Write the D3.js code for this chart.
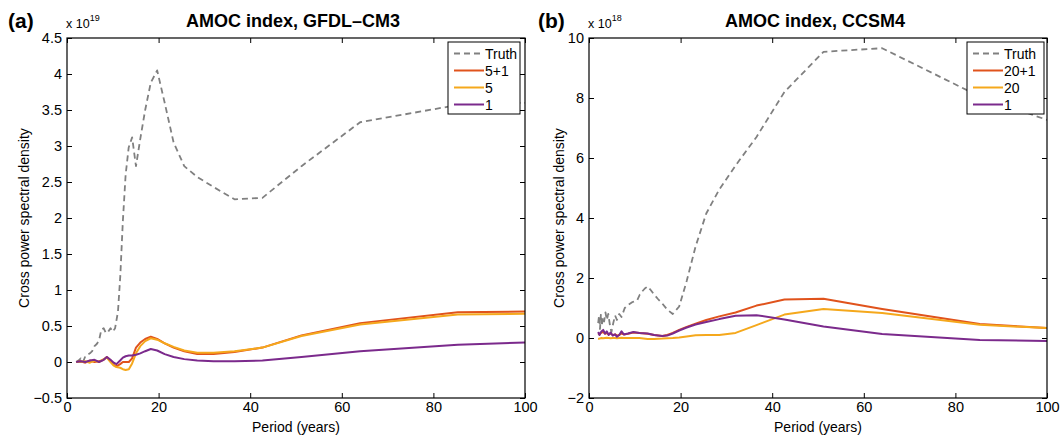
<!DOCTYPE html>
<html><head><meta charset="utf-8">
<script src="https://cdn.jsdelivr.net/npm/d3@7"></script>
<style>body{margin:0;background:#fff}svg{display:block}text{font-family:"Liberation Sans",Arial,Helvetica,sans-serif;fill:#000}</style>
</head><body><svg id="c" width="1063" height="437"></svg>
<script>
// ---------- data ----------
const xTicks = [0, 20, 40, 60, 80, 100];
const yTicksA = [-0.5, 0, 0.5, 1, 1.5, 2, 2.5, 3, 3.5, 4, 4.5];
const yTicksB = [-2, 0, 2, 4, 6, 8, 10];
const legendA = ["Truth", "5+1", "5", "1"];
const legendB = ["Truth", "20+1", "20", "1"];

// Panel (a) GFDL-CM3 (units of 1e19)
const truthA_x = [2,2.5,3,3.5,4,4.5,5,5.5,6,6.5,7,7.5,8,8.5,9,9.5,10,10.5,11.13,11.64,12.19,12.8,13.47,14.22,15.06,16,17.07,18.29,19.69,21.33,23.27,25.6,28.44,32,36.57,42.67,51.2,64,85.33,100];
const truthA_y = [0,0.02,0.05,0,0.08,0.1,0.12,0.15,0.22,0.25,0.3,0.45,0.47,0.4,0.42,0.47,0.42,0.47,0.7,1.2,1.95,2.6,2.98,3.12,2.72,3.1,3.5,3.88,4.05,3.6,3.05,2.72,2.57,2.43,2.26,2.28,2.72,3.33,3.57,3.6];
const colA_x = [2,3,4,5,6,7,8,8.7,9.5,10.2,10.8,11.6,12.2,12.8,13.5,14.22,15.06,16,17.07,18.29,19.69,21.33,23.27,25.6,28.44,32,36.57,42.67,51.2,64,85.33,100];
const orangeA = [0,0.01,-0.01,0.02,0,0.01,0.03,0.07,0.02,-0.04,-0.06,-0.03,0,0,0,0.05,0.2,0.27,0.32,0.35,0.32,0.26,0.2,0.15,0.11,0.11,0.14,0.2,0.37,0.54,0.69,0.7];
const yellowA = [0,0,0.01,-0.01,0.02,0,0.04,0.06,0,-0.05,-0.07,-0.08,-0.1,-0.11,-0.1,-0.02,0.12,0.22,0.29,0.33,0.31,0.26,0.21,0.16,0.13,0.13,0.15,0.2,0.36,0.52,0.66,0.67];
const purpleA = [0,0.01,0,0.02,0.03,0,0.03,0.07,0.03,-0.01,-0.03,0.02,0.06,0.08,0.09,0.09,0.1,0.12,0.15,0.18,0.16,0.11,0.07,0.04,0.02,0.01,0.01,0.02,0.07,0.15,0.24,0.27];

// Panel (b) CCSM4 (units of 1e18)
const truthB_x = [2,2.2,2.4,2.6,2.8,3,3.3,3.6,3.9,4.2,4.6,4.9,5.3,5.7,6.1,6.6,7.1,7.8,8.5,9.5,10.5,11.1,11.6,12.19,12.8,13.47,14.22,15.06,16,17.07,18.29,19.69,21.33,23.27,25.6,28.44,32,36.57,42.67,51.2,64,85.33,100];
const truthB_y = [0.5,0.75,0.3,0.8,0.4,0.7,0.55,0.85,0.6,0.8,0.4,0.2,0.5,0.75,0.6,0.8,0.7,1.0,1.1,1.2,1.25,1.45,1.55,1.65,1.72,1.6,1.45,1.3,1.15,0.95,0.8,1.05,1.9,3.05,4.15,4.95,5.75,6.7,8.2,9.54,9.66,8.05,7.27];
const colB_x = [2,2.3,2.7,3.1,3.5,3.9,4.3,4.7,5.2,5.7,6.1,6.6,7.1,7.6,8.5,9.7,11,12.8,14.22,16,17.07,18.29,19.69,21.33,23.27,25.6,28.44,32,36.57,42.67,51.2,64,85.33,100];
const orangeB = [0.15,0.12,0.18,0.2,0.14,0.17,0.12,0.15,0.1,0.12,0.08,0.1,0.15,0.12,0.14,0.18,0.17,0.14,0.1,0.07,0.1,0.17,0.27,0.37,0.48,0.6,0.72,0.85,1.08,1.28,1.31,0.97,0.47,0.33];
const yellowB = [-0.03,-0.02,0,-0.01,0,0.01,0,-0.01,0,0,-0.01,0,0.01,0,0,0,0,-0.03,-0.03,-0.02,-0.01,0,0.02,0.05,0.09,0.1,0.1,0.17,0.43,0.78,0.97,0.83,0.44,0.33];
const purpleB = [0.2,0.1,0.22,0.27,0.15,0.22,0.1,0.18,0.08,0.12,0.04,0.1,0.22,0.12,0.15,0.2,0.17,0.15,0.1,0.07,0.08,0.15,0.25,0.35,0.45,0.53,0.63,0.74,0.76,0.62,0.38,0.13,-0.07,-0.1];

const COLORS = {truth: "#808080", orange: "#e0531c", yellow: "#f5a81c", purple: "#7b2a8c"};

// ---------- drawing ----------
const svg = d3.select("#c");
const fmt = v => (v < 0 ? "\u2212" + String(-v) : String(v));

function panel(c) {
  const x = d3.scaleLinear().domain([0, 100]).range([c.left, c.right]);
  const y = d3.scaleLinear().domain(c.yDomain).range([398, 38]);
  const g = svg.append("g");
  const clipId = "clip" + c.id;
  g.append("clipPath").attr("id", clipId).append("rect")
    .attr("x", c.left).attr("y", 38).attr("width", c.right - c.left).attr("height", 360);

  // series
  const line = d3.line().x(d => x(d[0])).y(d => y(d[1]));
  c.series.forEach(s => {
    const pts = s.xs.map((v, i) => [v, s.ys[i]]);
    g.append("path").attr("d", line(pts)).attr("clip-path", `url(#${clipId})`)
      .attr("fill", "none").attr("stroke", s.color).attr("stroke-width", s.dash ? 1.8 : 2)
      .attr("stroke-dasharray", s.dash ? "6,4" : null).attr("stroke-linejoin", "round");
  });

  // axes (box with inward ticks)
  const axB = g.append("g").attr("transform", "translate(0,398)")
    .call(d3.axisBottom(x).tickValues(xTicks).tickSize(-5).tickPadding(4));
  const axT = g.append("g").attr("transform", "translate(0,38)")
    .call(d3.axisTop(x).tickValues(xTicks).tickSize(-5).tickFormat(""));
  const axL = g.append("g").attr("transform", `translate(${c.left},0)`)
    .call(d3.axisLeft(y).tickValues(c.yTicks).tickSize(-5).tickPadding(5).tickFormat(fmt));
  const axR = g.append("g").attr("transform", `translate(${c.right},0)`)
    .call(d3.axisRight(y).tickValues(c.yTicks).tickSize(-5).tickFormat(""));
  [axB, axT, axL, axR].forEach(a => {
    a.select(".domain").remove();
    a.selectAll("line").attr("stroke", "#000").attr("stroke-width", 1);
    a.selectAll("text").attr("font-size", 14.5).attr("font-family", '"Liberation Sans",Arial,sans-serif').attr("fill", "#000");
  });
  g.append("rect").attr("x", c.left).attr("y", 38).attr("width", c.right - c.left).attr("height", 360)
    .attr("fill", "none").attr("stroke", "#000").attr("stroke-width", 1.2);

  // labels
  g.append("text").attr("x", (c.left + c.right) / 2).attr("y", 432).attr("text-anchor", "middle")
    .attr("font-size", 14).text("Period (years)");
  g.append("text").attr("transform", `translate(${c.left - c.ylabOff},218) rotate(-90)`).attr("text-anchor", "middle")
    .attr("font-size", 14).text("Cross power spectral density");
  g.append("text").attr("x", (c.left + c.right) / 2 - 3).attr("y", 27).attr("text-anchor", "middle")
    .attr("font-size", 18).attr("font-weight", "bold").text(c.title);
  g.append("text").attr("x", c.tagX).attr("y", 28).attr("font-size", 21).attr("font-weight", "bold").text(c.tag);
  const ex = g.append("text").attr("x", c.left - 1).attr("y", 28).attr("font-size", 12.5);
  ex.append("tspan").text("x 10");
  ex.append("tspan").attr("font-size", 9).attr("dy", -7).text(c.exp);

  // legend
  const L = c.legend;
  g.append("rect").attr("x", L.x).attr("y", 42).attr("width", L.w).attr("height", 72)
    .attr("fill", "#fff").attr("stroke", "#000").attr("stroke-width", 1);
  c.series.forEach((s, i) => {
    const yy = 53.5 + i * 17;
    g.append("line").attr("x1", L.x + L.l1).attr("x2", L.x + L.l2).attr("y1", yy).attr("y2", yy)
      .attr("stroke", s.color).attr("stroke-width", s.dash ? 1.8 : 2)
      .attr("stroke-dasharray", s.dash ? "6,4" : null);
    g.append("text").attr("x", L.x + L.tx).attr("y", yy).attr("dy", "0.36em").attr("font-size", 14).text(c.labels[i]);
  });
}

panel({
  id: "a", left: 67, right: 525, yDomain: [-0.5, 4.5], yTicks: yTicksA, ylabOff: 38,
  title: "AMOC index, GFDL\u2013CM3", tag: "(a)", tagX: 8, exp: "19", labels: legendA,
  legend: {x: 448, w: 72, l1: 6, l2: 36, tx: 37},
  series: [
    {xs: truthA_x, ys: truthA_y, color: COLORS.truth, dash: true},
    {xs: colA_x, ys: orangeA, color: COLORS.orange},
    {xs: colA_x, ys: yellowA, color: COLORS.yellow},
    {xs: colA_x, ys: purpleA, color: COLORS.purple}
  ]
});

panel({
  id: "b", left: 589, right: 1047, yDomain: [-2, 10], yTicks: yTicksB, ylabOff: 25,
  title: "AMOC index, CCSM4", tag: "(b)", tagX: 538, exp: "18", labels: legendB,
  legend: {x: 967, w: 77, l1: 6, l2: 36, tx: 37},
  series: [
    {xs: truthB_x, ys: truthB_y, color: COLORS.truth, dash: true},
    {xs: colB_x, ys: orangeB, color: COLORS.orange},
    {xs: colB_x, ys: yellowB, color: COLORS.yellow},
    {xs: colB_x, ys: purpleB, color: COLORS.purple}
  ]
});
</script></body></html>
